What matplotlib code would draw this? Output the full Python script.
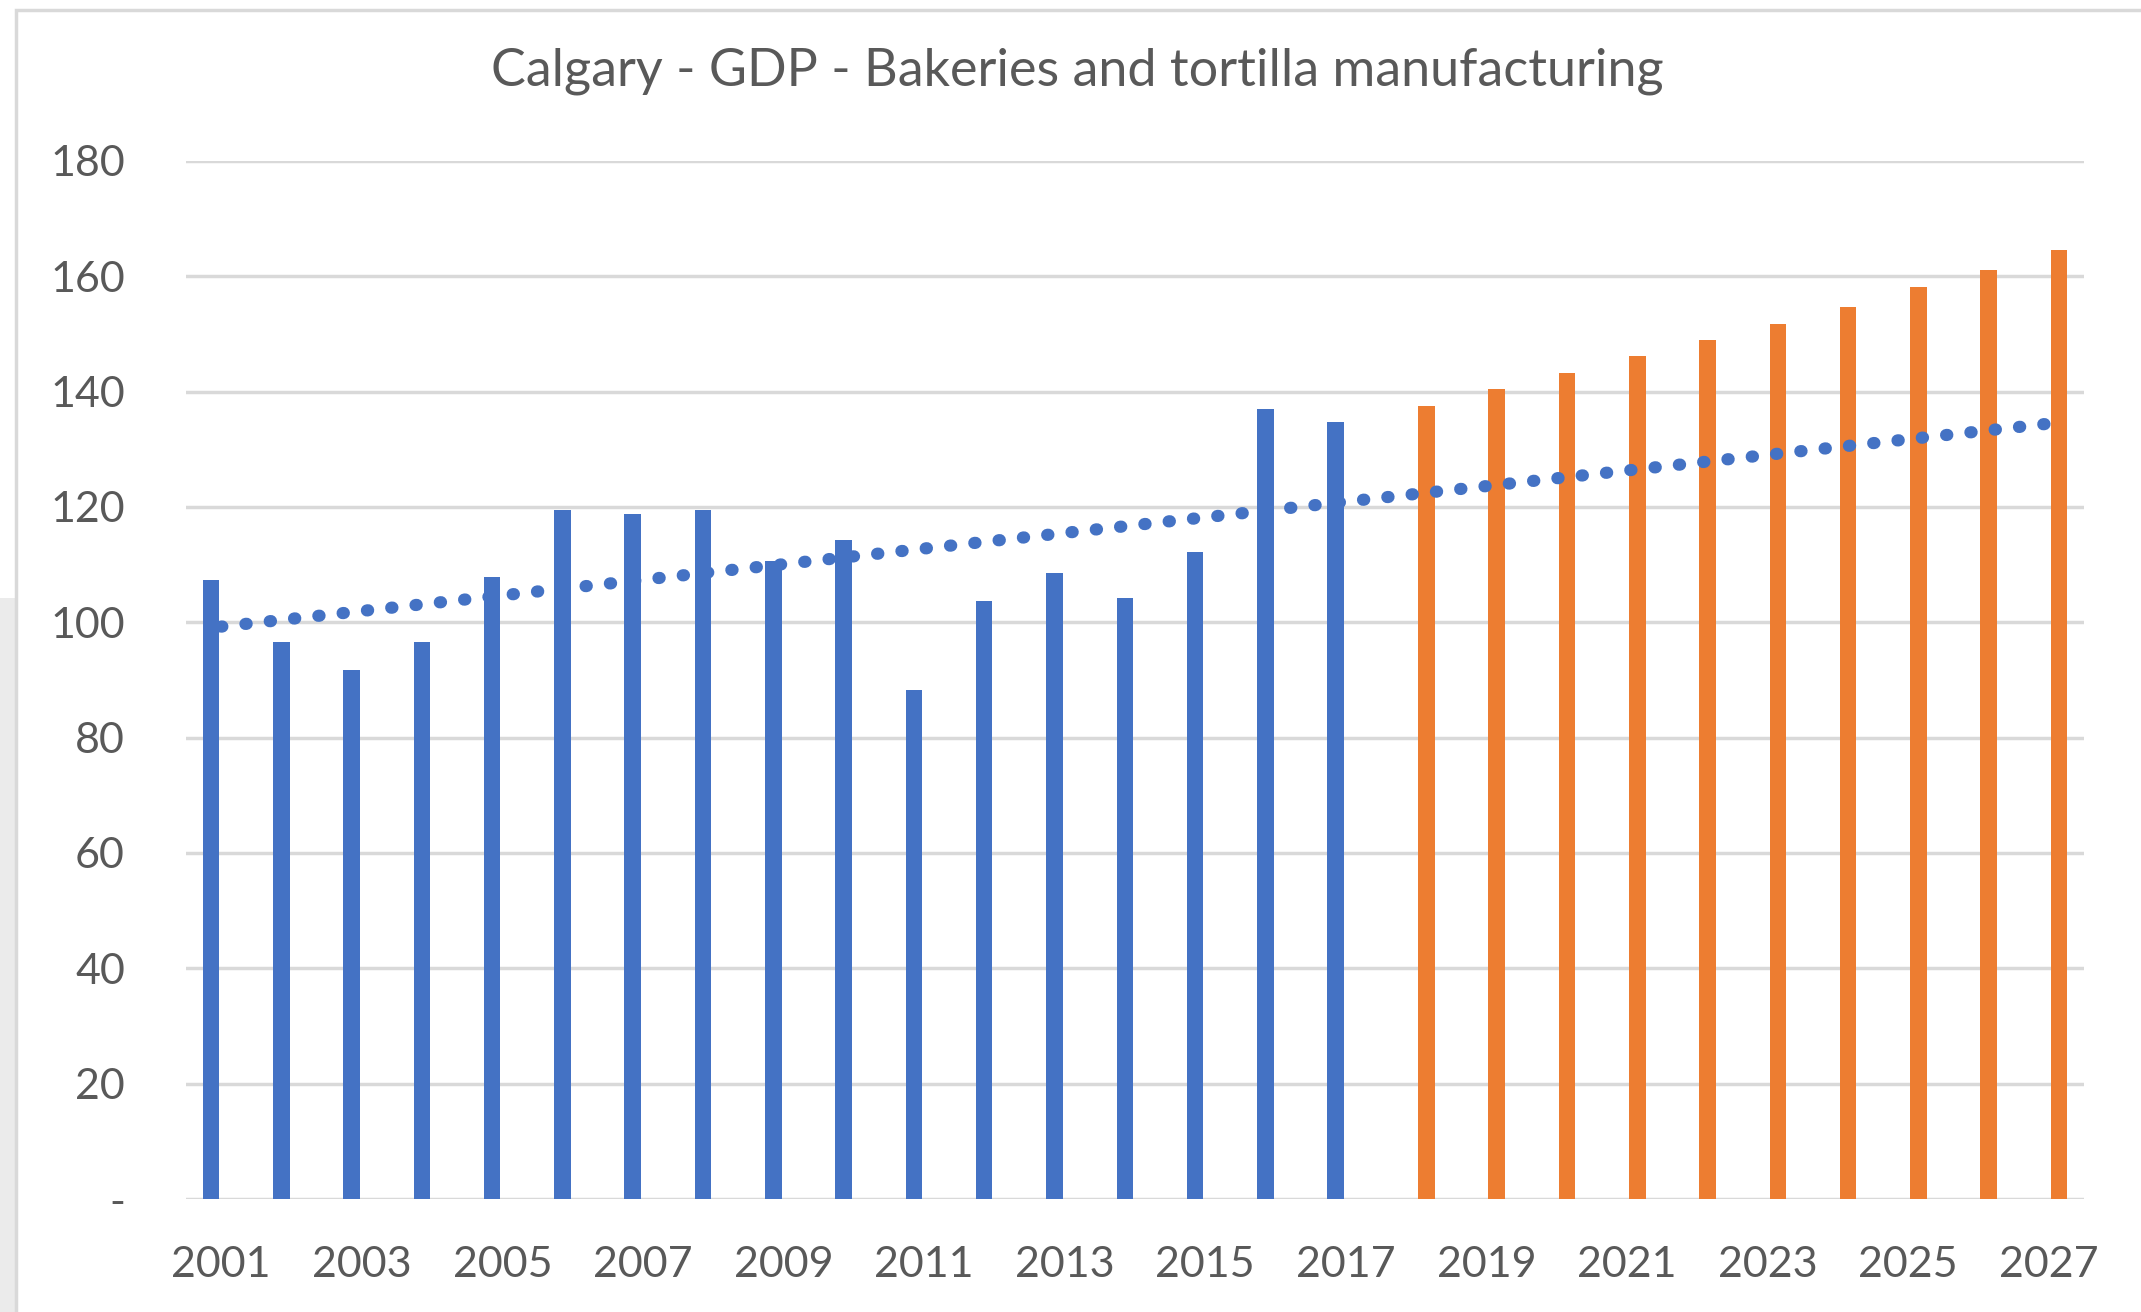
import numpy as np
import matplotlib.pyplot as plt
from matplotlib.patches import Rectangle

# values
hist_years = list(range(2001, 2018))
hist_gdp = [107.3, 96.6, 91.7, 96.6, 107.9, 119.5, 118.8, 119.5, 110.7, 114.2,
            88.2, 103.7, 108.6, 104.3, 112.2, 137.0, 134.7]
fcst_years = list(range(2018, 2028))
fcst_gdp = [137.6, 140.4, 143.2, 146.1, 148.9, 151.7, 154.7, 158.2, 161.1, 164.6]

title = "Calgary - GDP - Bakeries and tortilla manufacturing"
yticks = [0, 20, 40, 60, 80, 100, 120, 140, 160, 180]
ytick_labels = ["-", "20", "40", "60", "80", "100", "120", "140", "160", "180"]
xtick_years = list(range(2001, 2028, 2))

blue = "#4472C4"
orange = "#ED7D31"
grid = "#D9D9D9"
txt = "#595959"

plt.rcParams["font.family"] = ["Lato", "DejaVu Sans"]

fig = plt.figure(figsize=(21.41, 13.12), dpi=100)

# spreadsheet background and chart frame
fig.patches.append(Rectangle((0, 0), 16 / 2141, 1 - 598 / 1312, transform=fig.transFigure,
                             facecolor="#EBEBEB", edgecolor="none", zorder=-2))
fig.patches.append(Rectangle((16 / 2141, -0.01), 1.0, 1 - 10 / 1312 + 0.01, transform=fig.transFigure,
                             facecolor="white", edgecolor=grid, linewidth=2.5, zorder=-1))

ax = fig.add_axes([186 / 2141, 1 - 1199 / 1312, (2084 - 186) / 2141, (1199 - 161) / 1312])
ax.set_facecolor("none")

bw = 0.235
off = 0.145
ax.bar(np.array(hist_years) - off, hist_gdp, width=bw, color=blue, zorder=3)
ax.bar(np.array(fcst_years) + off, fcst_gdp, width=bw, color=orange, zorder=3)

# linear trend on the historical series, projected forward
m, b = np.polyfit(hist_years, hist_gdp, 1)
all_years = np.array(hist_years + fcst_years, dtype=float)
ax.plot(all_years, m * all_years + b, color=blue, linewidth=8.8,
        linestyle=(0, (0.1, 1.9)), dash_capstyle="round",
        solid_capstyle="round", zorder=4)

ax.set_xlim(2000.5, 2027.5)
ax.set_ylim(0, 180)
ax.set_yticks(yticks)
ax.set_yticklabels(ytick_labels)
ax.set_xticks(xtick_years)
ax.set_xticklabels([str(y) for y in xtick_years])
ax.tick_params(axis="both", length=0, labelsize=31, labelcolor=txt)
ax.tick_params(axis="y", pad=44)
ax.tick_params(axis="x", pad=34)
ax.yaxis.grid(True, color=grid, linewidth=2.5, zorder=0)
ax.set_axisbelow(True)
for s in ax.spines.values():
    s.set_visible(False)

fig.text(1077 / 2141, 1 - 71 / 1312, title, ha="center", va="center", fontsize=37.5, color=txt)

fig.savefig("out.png", dpi=100)
